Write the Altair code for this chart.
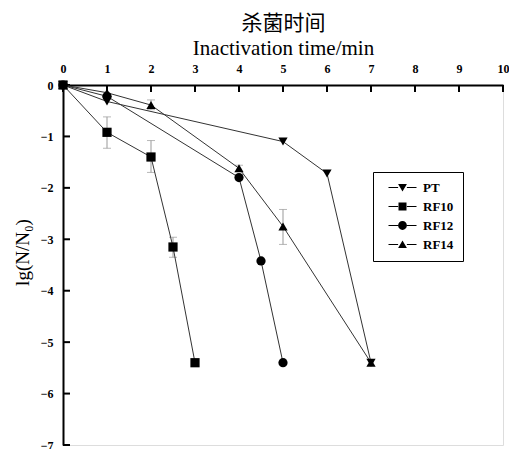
import altair as alt
import pandas as pd

series_names = ["PT", "RF10", "RF12", "RF14"]
pt_x = [0, 1, 5, 6, 7]
pt_y = [0, -0.32, -1.1, -1.72, -5.4]
rf10_x = [0, 1, 2, 2.5, 3]
rf10_y = [0, -0.92, -1.4, -3.15, -5.4]
rf12_x = [0, 1, 4, 4.5, 5]
rf12_y = [0, -0.22, -1.8, -3.42, -5.4]
rf14_x = [0, 1, 2, 4, 5, 7]
rf14_y = [0, -0.15, -0.39, -1.62, -2.75, -5.4]

err_series = ["RF10", "RF10", "RF10", "RF14", "RF14", "RF14"]
err_x = [1, 2, 2.5, 2, 4, 5]
err_lo = [-1.23, -1.70, -3.35, -0.48, -1.68, -3.10]
err_hi = [-0.62, -1.08, -2.96, -0.29, -1.56, -2.42]

x_ticks = [0, 1, 2, 3, 4, 5, 6, 7, 8, 9, 10]
y_ticks = [0, -1, -2, -3, -4, -5, -6, -7]

rows = []
for name, xs, ys in [("PT", pt_x, pt_y), ("RF10", rf10_x, rf10_y),
                     ("RF12", rf12_x, rf12_y), ("RF14", rf14_x, rf14_y)]:
    for xv, yv in zip(xs, ys):
        rows.append({"series": name, "t": xv, "v": yv})
df = pd.DataFrame(rows)
err_df = pd.DataFrame({"series": err_series, "t": err_x, "lo": err_lo, "hi": err_hi})
xt_df = pd.DataFrame({"t": x_ticks})
yt_df = pd.DataFrame({"v": y_ticks})

FONT = "'Liberation Serif', 'Noto Sans CJK SC', serif"

xscale = alt.Scale(domain=[0, 10], nice=False)
yscale = alt.Scale(domain=[-7, 0], nice=False)

xaxis = alt.Axis(orient="top", values=x_ticks, tickSize=0, labelPadding=10,
                 labelFont=FONT, labelFontWeight="bold", labelFontSize=12,
                 labelColor="black", domainColor="black", domainWidth=2,
                 title=["杀菌时间", "Inactivation time/min"], titleFont=FONT,
                 titleFontSize=21, titleFontWeight="normal", titleColor="black",
                 titlePadding=4, titleLineHeight=25, grid=False, labelFlush=False)
yaxis = alt.Axis(values=y_ticks, tickSize=0, labelPadding=10, format="d",
                 labelFont=FONT, labelFontWeight="bold", labelFontSize=12,
                 labelColor="black", domainColor="black", domainWidth=2,
                 title="lg(N/N₀)", titleFont=FONT, titleFontSize=19,
                 titleFontWeight="normal", titleColor="black", titlePadding=8,
                 titleY=167, grid=False, labelFlush=False)

base = alt.Chart(df)

lines = base.mark_line(color="#333333", strokeWidth=1, clip=False).encode(
    x=alt.X("t:Q", scale=xscale, axis=xaxis),
    y=alt.Y("v:Q", scale=yscale, axis=yaxis),
    detail="series:N",
    order="t:Q",
)

errs = alt.Chart(err_df).mark_errorbar(ticks=alt.TickConfig(size=8), color="#999999", thickness=1).encode(
    x=alt.X("t:Q", scale=xscale, axis=xaxis),
    y=alt.Y("lo:Q", scale=yscale, axis=yaxis),
    y2="hi:Q",
)

std_shapes = ["triangle-down", "square", "circle", "triangle-up"]
point_layers = []
for name, shp in zip(series_names, std_shapes):
    point_layers.append(
        base.transform_filter(alt.datum.series == name).mark_point(
            filled=True, color="black", opacity=1, size=85, clip=False, shape=shp).encode(
            x=alt.X("t:Q", scale=xscale, axis=xaxis),
            y=alt.Y("v:Q", scale=yscale, axis=yaxis),
        )
    )

# legend glyphs: thin filled bars on both sides of the marker ("—▼—")
ln = "M0,-0.13H2.4V0.13H0ZM4.6,-0.13H7V0.13H4.6Z"
legend_paths = [
    ln + "M2.4,-0.85L4.6,-0.85L3.5,1Z",
    ln + "M2.5,-1H4.5V1H2.5Z",
    ln + "M2.4,0A1.1,1.1 0 1,0 4.6,0A1.1,1.1 0 1,0 2.4,0Z",
    ln + "M2.4,0.85L4.6,0.85L3.5,-1Z",
]

legend_layer = base.transform_filter("false").mark_point(
    filled=True, color="black", opacity=1, size=64).encode(
    x=alt.X("t:Q", scale=xscale, axis=xaxis),
    y=alt.Y("v:Q", scale=yscale, axis=yaxis),
    shape=alt.Shape("series:N", scale=alt.Scale(domain=series_names, range=legend_paths),
                    legend=alt.Legend(title=None, orient="none", legendX=310, legendY=87,
                                      strokeColor="black", padding=9, symbolSize=64,
                                      symbolFillColor="black", symbolOpacity=1, labelOffset=28,
                                      labelFont=FONT, labelFontWeight="bold", labelFontSize=13,
                                      labelColor="black", rowPadding=4)),
)

xticks = alt.Chart(xt_df).mark_rule(color="black", strokeWidth=2).encode(
    x=alt.X("t:Q", scale=xscale, axis=xaxis), y=alt.value(0), y2=alt.value(7))
yticks = alt.Chart(yt_df).mark_rule(color="black", strokeWidth=2).encode(
    y=alt.Y("v:Q", scale=yscale, axis=yaxis), x=alt.value(0), x2=alt.value(7))

chart = alt.layer(xticks, yticks, errs, lines, *point_layers, legend_layer).properties(
    width=440, height=360,
    autosize=alt.AutoSizeParams(type="none"),
    padding={"left": 55, "top": 77, "right": 6, "bottom": 4},
).configure_view(stroke=None).configure(background="white")

chart.save("out.html", embed_options={"renderer": "svg", "actions": False})
